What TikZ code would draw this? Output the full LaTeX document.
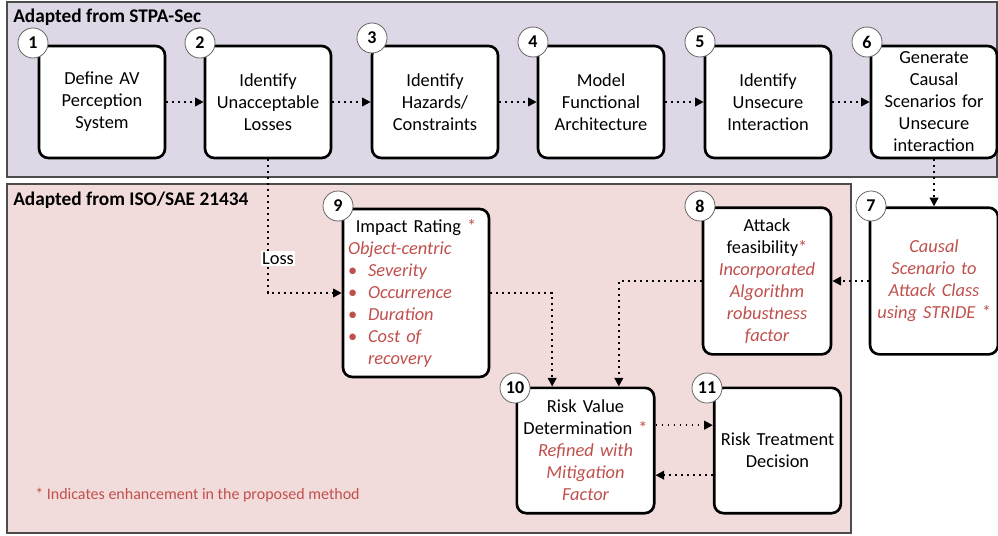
\documentclass[tikz,border=0pt]{standalone}
\usepackage{fontspec}
\setmainfont{Carlito}
\usetikzlibrary{arrows.meta}
\definecolor{stpabg}{RGB}{221,215,230}
\definecolor{isobg}{RGB}{242,220,219}
\definecolor{enhred}{RGB}{192,80,77}
\newcommand{\enhstar}{\textcolor{enhred}{*}}

\begin{document}
\begin{tikzpicture}[x=0.75pt,y=-0.75pt,font=\fontsize{13.8}{16.5}\selectfont]
				\tikzstyle{band} = [draw=black!70,line width=1pt]
				\tikzstyle{title} = [anchor=west,inner sep=0pt,font=\fontsize{14.5}{16.5}\selectfont\bfseries]
				\tikzstyle{stage} = [draw,line width=2pt,rounded corners=7pt,fill=white,align=center,inner xsep=2pt,inner ysep=0pt]
				\tikzstyle{toprow} = [stage,minimum width=94.5pt,minimum height=84pt,text width=90pt]
				\tikzstyle{num} = [circle,draw=black!60,line width=0.6pt,fill=white,minimum size=22.5pt,inner sep=0pt,font=\fontsize{13.5}{14}\selectfont\bfseries]
				\tikzstyle{flow} = [line width=1.4pt,dash pattern=on 1.4pt off 3.1pt,-{Triangle[length=6.5pt,width=6.5pt]}]
				\tikzstyle{lossbox} = [fill=white,inner sep=1pt,xshift=7.5pt]
				
				\useasboundingbox (0,0) rectangle (998,535);
				\draw[band,fill=stpabg] (7,2) rectangle (997,177);
				\draw[band,fill=isobg] (7,184) rectangle (851,533);
				\node[title] (t1) at (13,17) {Adapted from STPA-Sec};
				\node[title] (t2) at (13,200) {Adapted from ISO/SAE 21434};
				
				\node[toprow] (b1) at (102,102) {Define AV\\Perception\\System};
				\node[toprow] (b2) at (268,102) {Identify\\Unacceptable\\Losses};
				\node[toprow] (b3) at (435,102) {Identify\\Hazards/\\Constraints};
				\node[toprow] (b4) at (601,102) {Model\\Functional\\Architecture};
				\node[toprow] (b5) at (768,102) {Identify\\Unsecure\\Interaction};
				\node[toprow] (b6) at (934,102) {Generate\\Causal\\Scenarios for\\Unsecure\\interaction};
				
				\node[stage,minimum width=94.5pt,minimum height=110pt,text width=92pt,text=enhred,font=\fontsize{13.8}{16.5}\selectfont\itshape] (b7) at (934,281) {Causal\\Scenario to\\Attack Class\\using STRIDE *};
				\node[stage,minimum width=94.5pt,minimum height=110pt,text width=92pt] (b8) at (767,281) {Attack\\feasibility\enhstar\\\color{enhred}\itshape Incorporated\\Algorithm\\robustness\\factor};
				\node[stage,minimum width=109.5pt,minimum height=126pt,text width=102pt,align=left,inner xsep=3.75pt] (b9) at (416,293) {\makebox[102pt]{Impact Rating \enhstar}\\\color{enhred}\itshape Object-centric\\\makebox[15pt][l]{\upshape\textbullet}Severity\\\makebox[15pt][l]{\upshape\textbullet}Occurrence\\\makebox[15pt][l]{\upshape\textbullet}Duration\\\makebox[15pt][l]{\upshape\textbullet}Cost of\\\hspace*{15pt}recovery};
				\node[stage,minimum width=103pt,minimum height=94pt,text width=99pt] (b10) at (585.5,450.5) {Risk Value\\Determination \enhstar\\\color{enhred}\itshape Refined with\\Mitigation\\Factor};
				\node[stage,minimum width=94pt,minimum height=94pt,text width=91pt] (b11) at (777.5,450.5) {Risk Treatment\\Decision};
				
				\node[num] (n1) at (33,43) {1};
				\node[num] (n2) at (200,43) {2};
				\node[num] (n3) at (372,38) {3};
				\node[num] (n4) at (533,42) {4};
				\node[num] (n5) at (700,42) {5};
				\node[num] (n6) at (867,42) {6};
				\node[num] (n7) at (871,206) {7};
				\node[num] (n8) at (700,206) {8};
				\node[num] (n9) at (338,206) {9};
				\node[num] (n10) at (515,388) {10};
				\node[num] (n11) at (707,388) {11};
				
				\draw[flow] (b1) -- (b2);
				\draw[flow] (b2) -- (b3);
				\draw[flow] (b3) -- (b4);
				\draw[flow] (b4) -- (b5);
				\draw[flow] (b5) -- (b6);
				\draw[flow] (b6.south) -- (b7.north);
				\draw[flow] (b7.west) -- (b8.east);
				\draw[flow] (b2.south) |- (b9.west) node[pos=0.37,lossbox] {Loss};
				\draw[flow] (b9.east) -| ([xshift=-25pt]b10.north);
				\draw[flow] (b8.west) -| ([xshift=25pt]b10.north);
				\draw[flow] ([yshift=19pt]b10.east) -- ([yshift=19pt]b11.west);
				\draw[flow] ([yshift=-18.5pt]b11.west) -- ([yshift=-18.5pt]b10.east);
				
				\node[anchor=west,inner sep=0pt,text=enhred,font=\fontsize{12}{13}\selectfont] (note) at (35,495) {* Indicates enhancement in the proposed method};
			\end{tikzpicture}
\end{document}
